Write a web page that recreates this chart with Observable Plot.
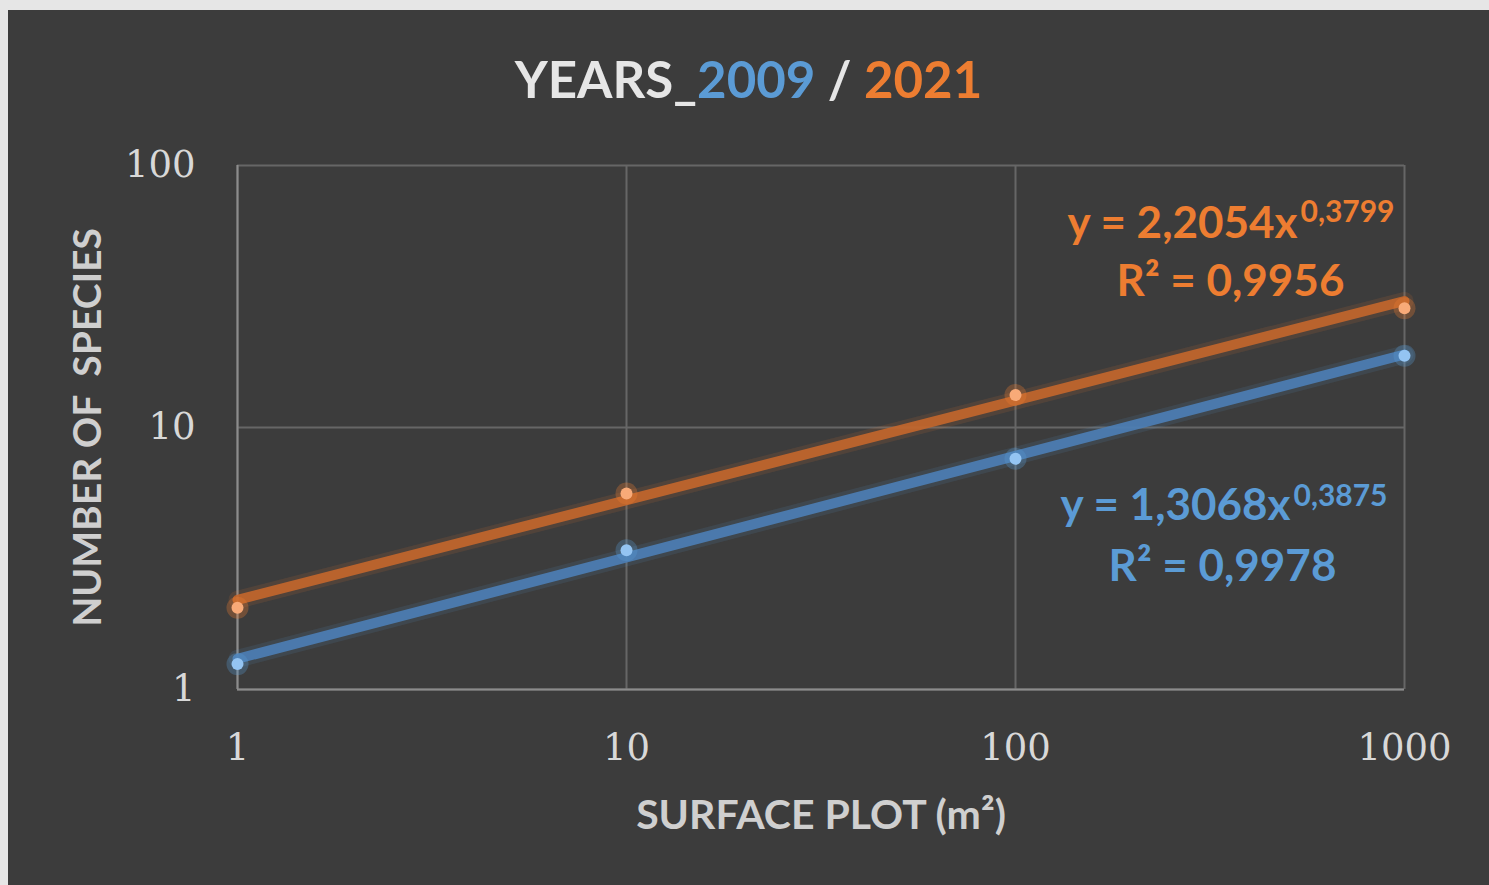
<!DOCTYPE html>
<html><head><meta charset="utf-8">
<script src="https://cdn.jsdelivr.net/npm/d3@7"></script>
<script src="https://cdn.jsdelivr.net/npm/@observablehq/plot@0.6"></script>
<style>
html,body{margin:0;padding:0;background:#e6e6e6;width:1489px;height:885px;overflow:hidden}
#card{position:absolute;left:8px;top:10px;width:1481px;height:875px;background:#3c3c3c}
#title{position:absolute;left:0;width:100%;top:39px;text-align:center;font:bold 51px Lato, sans-serif;color:#e6e6e6;line-height:60px}
#chart{position:absolute;left:0;top:110px}
</style></head>
<body><div id="card"><div id="title">YEARS_<span style="color:#5b9bd5">2009</span> / <span style="color:#ed7d31">2021</span></div><div id="chart"></div></div>
<script>
const surface = [1, 10, 100, 1000];
const species2009 = [1.25, 3.4, 7.6, 18.8];
const species2021 = [2.05, 5.6, 13.3, 28.5];
const trendX = [1, 1000];
const trend2009 = [1.31, 19.0];
const trend2021 = [2.2, 30.4];
const xTicks = [1, 10, 100, 1000];
const yTicks = [1, 10, 100];
const eq2021 = ["y = 2,2054x", "0,3799", "R² = 0,9956"];
const eq2009 = ["y = 1,3068x", "0,3875", "R² = 0,9978"];
const xLabel = "SURFACE PLOT (m²)";
const yLabel = "NUMBER OF  SPECIES";

const c2009 = "#5b9bd5", c2021 = "#ed7d31";
const pts2009 = surface.map((x, i) => ({x, y: species2009[i]}));
const pts2021 = surface.map((x, i) => ({x, y: species2021[i]}));
const tr2009 = trendX.map((x, i) => ({x, y: trend2009[i]}));
const tr2021 = trendX.map((x, i) => ({x, y: trend2021[i]}));
const sans = "Lato, sans-serif";

const eqMarks = (eq, color, dxMain, dyMain, dxExp, dyExp, dxR, dyR) => [
  Plot.text([eq[0]], {text: d => d, frameAnchor: "top-right", textAnchor: "end", dx: dxMain, dy: dyMain, fill: color, fontSize: 44, fontFamily: sans, fontWeight: "bold"}),
  Plot.text([eq[1]], {text: d => d, frameAnchor: "top-right", textAnchor: "start", dx: dxExp, dy: dyExp, fill: color, fontSize: 30, fontFamily: sans, fontWeight: "bold"}),
  Plot.text([eq[2]], {text: d => d, frameAnchor: "top-right", textAnchor: "middle", dx: dxR, dy: dyR, fill: color, fontSize: 44, fontFamily: sans, fontWeight: "bold"})
];

const chart = Plot.plot({
  width: 1481,
  height: 765,
  marginLeft: 229,
  marginRight: 85,
  marginTop: 45,
  marginBottom: 196,
  style: {background: "transparent", overflow: "visible"},
  x: {type: "log", domain: [1, 1000]},
  y: {type: "log", domain: [1, 100]},
  marks: [
    Plot.ruleX(xTicks, {stroke: "#666", strokeWidth: 2}),
    Plot.ruleY(yTicks, {stroke: "#666", strokeWidth: 2}),
    Plot.ruleX([1], {stroke: "#8c8c8c", strokeWidth: 2}),
    Plot.ruleY([1], {stroke: "#8c8c8c", strokeWidth: 2}),
    Plot.axisX(xTicks, {tickSize: 0, tickPadding: 44, tickFormat: d => String(d), fill: "#d8d8d8", fontSize: 37, fontFamily: "DejaVu Serif, serif", label: null}),
    Plot.axisY(yTicks, {tickSize: 0, tickPadding: 42, tickFormat: d => String(d), fill: "#d8d8d8", fontSize: 37, fontFamily: "DejaVu Serif, serif", label: null}),
    Plot.text([xLabel], {text: d => d, frameAnchor: "bottom", textAnchor: "middle", dy: 139, fill: "#cfcfcf", fontSize: 41, fontFamily: sans, fontWeight: "bold"}),
    Plot.text([yLabel], {text: d => d, frameAnchor: "left", textAnchor: "middle", dx: -149, rotate: -90, fill: "#cfcfcf", fontSize: 39, fontFamily: sans, fontWeight: "bold"}),
    Plot.line(tr2021, {x: "x", y: "y", stroke: c2021, strokeWidth: 18, strokeOpacity: 0.12}),
    Plot.line(tr2009, {x: "x", y: "y", stroke: c2009, strokeWidth: 18, strokeOpacity: 0.12}),
    Plot.line(tr2021, {x: "x", y: "y", stroke: "#c2662c", strokeWidth: 10, strokeOpacity: 0.92}),
    Plot.line(tr2009, {x: "x", y: "y", stroke: "#4c7eb4", strokeWidth: 10, strokeOpacity: 0.92}),
    Plot.dot(pts2021, {x: "x", y: "y", r: 11, fill: c2021, fillOpacity: 0.3}),
    Plot.dot(pts2009, {x: "x", y: "y", r: 11, fill: c2009, fillOpacity: 0.3}),
    Plot.dot(pts2021, {x: "x", y: "y", r: 6, fill: "#f8aa78"}),
    Plot.dot(pts2009, {x: "x", y: "y", r: 6, fill: "#94c4f2"}),
    ...eqMarks(eq2021, c2021, -107, 41, -104, 35, -174, 99),
    ...eqMarks(eq2009, c2009, -114, 323, -111, 319, -182, 384)
  ]
});
document.getElementById("chart").appendChild(chart);
</script>
</body></html>
